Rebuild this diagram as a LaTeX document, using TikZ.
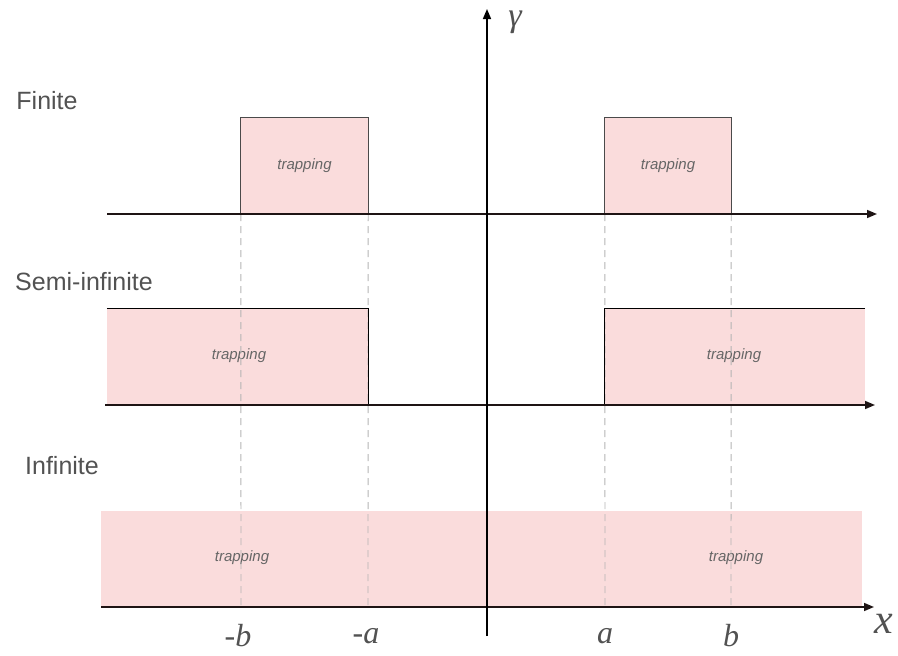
\documentclass[tikz,border=0pt]{standalone}
\usepackage{fontspec}
\setmainfont{Liberation Sans}
\newfontfamily\serifit{Liberation Serif}
\usetikzlibrary{arrows.meta}
\definecolor{cTrap}{HTML}{FADCDC}
\definecolor{cEdge}{HTML}{4A4A4A}
\definecolor{cText}{HTML}{666666}
\definecolor{cGuide}{HTML}{B4B4B4}
\definecolor{cAxis}{HTML}{1E1414}

\begin{document}
\begin{tikzpicture}[
  x=1pt, y=-1pt,
  >={Triangle[length=10pt,width=8pt]},
  axis/.style={->, line width=1.6pt, draw=cAxis},
  trap/.style={rectangle, fill=cTrap, inner sep=0pt, minimum width=#1, minimum height=96pt},
  edge/.style={line width=1pt, draw=cEdge},
  guide/.style={line width=0.9pt, draw=cGuide, dash pattern=on 7pt off 5pt},
  word/.style={font=\fontsize{15}{17}\selectfont\itshape, text=cText},
  rowlab/.style={font=\fontsize{25}{28}\selectfont, text=cText!80!black},
  tick/.style={font=\serifit\itshape\fontsize{32}{34}\selectfont, text=cText!80!black},
]
\useasboundingbox (0,0) rectangle (898,656);

% ---- Row 1: finite ----
\node[rowlab] (lfin) at (47,101) {Finite};
\node[trap=127pt] (fl) at (304.5,166) {};
\node[trap=126pt] (fr) at (668,166) {};
\node[word] at (fl) {trapping};
\node[word] at (fr) {trapping};

% ---- Row 2: semi-infinite ----
\node[rowlab] (lsemi) at (84,282) {Semi-infinite};
\node[trap=261pt] (sl) at (237.5,357) {};
\node[trap=260pt] (sr) at (735,357) {};
\node[word] at (239,356) {trapping};
\node[word] at (734,356) {trapping};

% ---- Row 3: infinite ----
\node[rowlab] (linf) at (62,466) {Infinite};
\node[trap=761pt] (il) at (481.5,559) {};
\node[word] at (242,558) {trapping};
\node[word] at (736,558) {trapping};

% ---- guides ----
\coordinate (mb) at (241,607);
\coordinate (ma) at (368,607);
\coordinate (pa) at (605,607);
\coordinate (pb) at (731,607);
\draw[guide] (fl.south west) -- (mb);
\draw[guide] (fl.south east) -- (ma);
\draw[guide] (fr.south west) -- (pa);
\draw[guide] (fr.south east) -- (pb);

% ---- box edges ----
\draw[edge] (fl.south west) rectangle (fl.north east);
\draw[edge] (fr.south west) rectangle (fr.north east);
\draw[edge, draw=black] (sl.north west) -- (sl.north east) -- (sl.south east);
\draw[edge, draw=black] (sr.north east) -- (sr.north west) -- (sr.south west);

% ---- axes ----
\coordinate (o1) at (107,214); \coordinate (e1) at (877,214);
\coordinate (o2) at (105,405); \coordinate (e2) at (875,405);
\coordinate (o3) at (101,607); \coordinate (e3) at (874,607);
\coordinate (yb) at (487,636); \coordinate (yt) at (487,9);
\draw[axis] (o1) -- (e1);
\draw[axis] (o2) -- (e2);
\draw[axis] (o3) -- (e3);
\draw[axis, draw=black] (yb) -- (yt);

% ---- labels ----
\node[tick, inner sep=0pt, font=\serifit\itshape\fontsize{34}{36}\selectfont] (gam) at (515,22) {γ};
\node[tick, font=\serifit\itshape\fontsize{42}{44}\selectfont] (xl) at (884,624) {x};
\node[tick] at (238,636) {-b};
\node[tick] at (366,636) {-a};
\node[tick] at (605,636) {a};
\node[tick] at (731,636) {b};

\end{tikzpicture}
\end{document}
